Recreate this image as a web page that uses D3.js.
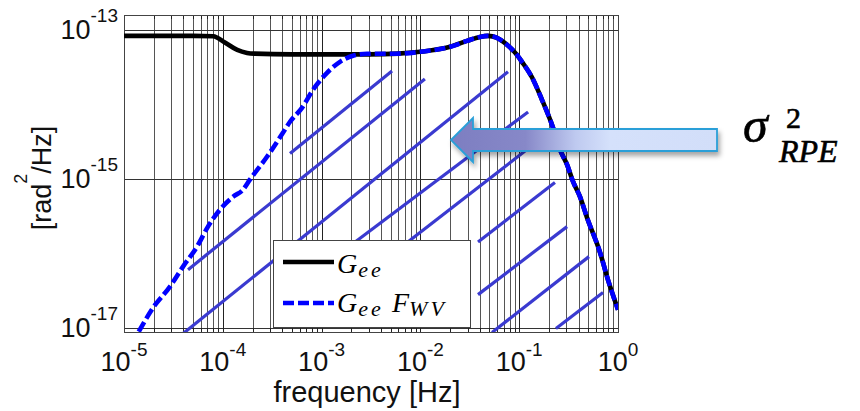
<!DOCTYPE html>
<html>
<head>
<meta charset="utf-8">
<script src="https://cdn.jsdelivr.net/npm/d3@7/dist/d3.min.js"></script>
<style>
  body { margin: 0; background: #fff; }
</style>
</head>
<body>
<div id="chart"></div>
<script>
// tick exponents (labels are 10^e)
const xTickExp = [-5, -4, -3, -2, -1, 0];
const yTickExp = [-13, -15, -17];

// G_ee  (frequency in Hz, PSD in rad^2/Hz)
const geeFreq = [1e-5, 5e-5, 8e-5, 1.05e-4, 1.4e-4, 1.76e-4, 2.1e-4, 5e-4, 1e-3, 3e-3, 6e-3,
                 9.9e-3, 0.02, 0.0296, 0.04, 0.0483, 0.0596, 0.0753, 0.095, 0.1067, 0.135,
                 0.17, 0.22, 0.259, 0.305, 0.351, 0.412, 0.485, 0.658, 0.792, 1.0];
const geeVal = [8.32e-14, 8.32e-14, 8.22e-14, 6.76e-14, 5.37e-14, 4.90e-14, 4.79e-14, 4.68e-14,
                4.68e-14, 4.68e-14, 4.79e-14, 5.07e-14, 5.92e-14, 7.11e-14, 8.05e-14, 8.32e-14,
                7.82e-14, 6.31e-14, 4.62e-14, 3.72e-14, 2.29e-14, 1.15e-14, 4.84e-15, 2.45e-15,
                1.55e-15, 9.12e-16, 5.75e-16, 3.02e-16, 1.02e-16, 4.37e-17, 1.74e-17];

// G_ee F_WV
const gfwFreq = [1.18e-5, 1.355e-5, 1.97e-5, 2.92e-5, 3.96e-5, 5.48e-5, 7.08e-5, 9.37e-5,
                 1.27e-4, 1.60e-4, 1.88e-4, 2.80e-4, 4.06e-4, 4.79e-4, 6.33e-4, 8.19e-4,
                 1.135e-3, 1.535e-3, 2.08e-3, 2.88e-3, 6e-3,
                 9.9e-3, 0.02, 0.0296, 0.04, 0.0483, 0.0596, 0.0753, 0.095, 0.1067, 0.135,
                 0.17, 0.22, 0.259, 0.305, 0.351, 0.412, 0.485, 0.658, 0.792, 1.0];
const gfwVal = [5.9e-18, 8.05e-18, 1.85e-17, 3.55e-17, 6.59e-17, 1.22e-16, 2.27e-16, 3.84e-16,
                5.73e-16, 7.11e-16, 9.7e-16, 1.97e-15, 4.14e-15, 5.82e-15, 8.97e-15, 1.57e-14,
                2.65e-14, 3.72e-14, 4.48e-14, 4.77e-14, 4.79e-14,
                5.07e-14, 5.92e-14, 7.11e-14, 8.05e-14, 8.32e-14, 7.82e-14, 6.31e-14, 4.62e-14,
                3.72e-14, 2.29e-14, 1.15e-14, 4.84e-15, 2.45e-15, 1.55e-15, 9.12e-16, 5.75e-16,
                3.02e-16, 1.02e-16, 4.37e-17, 1.74e-17];

// hatch strokes marking the sigma^2_RPE area, [freq, psd] start and end
const hatchFrom = [[3.96e-5, 8.3e-18], [4.45e-5, 6.0e-17], [4.79e-4, 2.18e-15], [1.73e-3, 1.12e-16],
                   [6.22e-3, 1.17e-16], [0.0383, 1.41e-16], [0.0383, 2.77e-17], [0.0531, 8.6e-18],
                   [0.2355, 9.7e-18]];
const hatchTo = [[0.077, 2.73e-14], [0.0111, 2.19e-14], [5.16e-3, 2.8e-14], [0.123, 7.9e-15],
                 [0.182, 3.8e-15], [0.230, 8.9e-16], [0.305, 2.27e-16], [0.508, 8.97e-17],
                 [0.705, 2.95e-17]];

const width = 860, height = 411;
const pLeft = 124, pRight = 618, pTop = 15, pBottom = 332;

const svg = d3.select("#chart").append("svg")
    .attr("width", width)
    .attr("height", height);

const x = d3.scaleLog().domain([1e-5, 1]).range([pLeft, pRight]);
const y = d3.scaleLog().domain([Math.pow(10, -17.06), Math.pow(10, -12.8)]).range([pBottom, pTop]);

const defs = svg.append("defs");
defs.append("clipPath").attr("id", "plotclip")
    .append("rect")
    .attr("x", pLeft).attr("y", pTop)
    .attr("width", pRight - pLeft).attr("height", pBottom - pTop);

// grid
const grid = svg.append("g").attr("shape-rendering", "crispEdges");
const minor = x.ticks();
grid.selectAll(".vg").data(minor).enter().append("line")
    .attr("x1", d => Math.round(x(d)) + 0.5).attr("x2", d => Math.round(x(d)) + 0.5)
    .attr("y1", pTop).attr("y2", pBottom)
    .style("stroke", d => Number.isInteger(Math.log10(d)) ? "#222" : "#555")
    .style("stroke-width", 1);
grid.selectAll(".hg").data(yTickExp).enter().append("line")
    .attr("x1", pLeft).attr("x2", pRight)
    .attr("y1", d => Math.round(y(Math.pow(10, d))) + 0.5)
    .attr("y2", d => Math.round(y(Math.pow(10, d))) + 0.5)
    .style("stroke", "#333");

// small inward ticks
grid.selectAll(".tb").data(minor).enter().append("line")
    .attr("x1", d => Math.round(x(d)) + 0.5).attr("x2", d => Math.round(x(d)) + 0.5)
    .attr("y1", pBottom).attr("y2", pBottom - 4)
    .style("stroke", "#222");
grid.selectAll(".tt").data(minor).enter().append("line")
    .attr("x1", d => Math.round(x(d)) + 0.5).attr("x2", d => Math.round(x(d)) + 0.5)
    .attr("y1", pTop).attr("y2", pTop + 4)
    .style("stroke", "#222");

grid.append("rect")
    .attr("x", pLeft + 0.5).attr("y", pTop + 0.5)
    .attr("width", pRight - pLeft).attr("height", pBottom - pTop)
    .style("fill", "none").style("stroke", "#444");

// hatch
const plot = svg.append("g").attr("clip-path", "url(#plotclip)");
plot.selectAll(".hatch").data(hatchFrom).enter().append("line")
    .attr("x1", d => x(d[0])).attr("y1", d => y(d[1]))
    .attr("x2", (d, i) => x(hatchTo[i][0])).attr("y2", (d, i) => y(hatchTo[i][1]))
    .style("stroke", "#3a3ad0")
    .style("stroke-width", 3.2);

// curves
const line = d3.line()
    .x(d => x(d[0]))
    .y(d => y(d[1]))
    .curve(d3.curveMonotoneX);

plot.append("path")
    .attr("d", line(d3.zip(geeFreq, geeVal)))
    .style("fill", "none").style("stroke", "#000").style("stroke-width", 4.6);

plot.append("path")
    .attr("d", line(d3.zip(gfwFreq, gfwVal)))
    .style("fill", "none").style("stroke", "#0000ff").style("stroke-width", 4.6)
    .style("stroke-dasharray", "11,4");

// tick labels
const font = "'Liberation Sans', Arial, sans-serif";
const xl = svg.selectAll(".xl").data(xTickExp).enter().append("text")
    .attr("x", d => x(Math.pow(10, d)))
    .attr("y", 371)
    .attr("text-anchor", "middle")
    .style("font-family", font).style("fill", "#111");
xl.append("tspan").style("font-size", "27px").text("10");
xl.append("tspan").style("font-size", "19px").attr("dy", -15).text(d => d);

const yl = svg.selectAll(".yl").data(yTickExp).enter().append("text")
    .attr("x", 118)
    .attr("y", d => y(Math.pow(10, d)) + 9)
    .attr("text-anchor", "end")
    .style("font-family", font).style("fill", "#111");
yl.append("tspan").style("font-size", "27px").text("10");
yl.append("tspan").style("font-size", "19px").attr("dy", -17).text(d => d);

// axis titles
svg.append("text")
    .attr("x", 367).attr("y", 402)
    .attr("text-anchor", "middle")
    .style("font-family", font).style("font-size", "29px").style("fill", "#111")
    .text("frequency [Hz]");

const yt = svg.append("text")
    .attr("transform", "translate(51,178) rotate(-90)")
    .attr("text-anchor", "middle")
    .style("font-family", font).style("font-size", "27px").style("fill", "#111");
yt.append("tspan").text("[rad");
yt.append("tspan").attr("dy", -24).style("font-size", "18px").text("2");
yt.append("tspan").attr("dy", 24).text("/Hz]");

// legend
const lg = svg.append("g");
lg.append("rect")
    .attr("x", 273.5).attr("y", 240.5).attr("width", 197).attr("height", 87)
    .style("fill", "#fff").style("stroke", "#444");
lg.append("line").attr("x1", 283).attr("x2", 334).attr("y1", 262).attr("y2", 262)
    .style("stroke", "#000").style("stroke-width", 4.6);
lg.append("line").attr("x1", 283).attr("x2", 334).attr("y1", 303).attr("y2", 303)
    .style("stroke", "#0000ff").style("stroke-width", 4.6).style("stroke-dasharray", "11,4");

const serif = "'Liberation Serif', 'Times New Roman', serif";
const l1 = lg.append("text").attr("x", 337).attr("y", 273)
    .style("font-family", serif).style("font-style", "italic").style("font-size", "28px");
l1.append("tspan").text("G");
l1.append("tspan").attr("dx", 1).attr("dy", 4).style("font-size", "22px")
    .style("letter-spacing", "3px").text("ee");

const l2 = lg.append("text").attr("x", 337).attr("y", 312)
    .style("font-family", serif).style("font-style", "italic").style("font-size", "28px");
l2.append("tspan").text("G");
l2.append("tspan").attr("dx", 1).attr("dy", 4).style("font-size", "22px")
    .style("letter-spacing", "3px").text("ee");
l2.append("tspan").attr("x", 392).attr("dy", -4).text("F");
l2.append("tspan").attr("dy", 4).style("font-size", "22px")
    .style("letter-spacing", "3px").text("WV");

// arrow annotation
const grad = defs.append("linearGradient").attr("id", "arrowfill")
    .attr("gradientUnits", "userSpaceOnUse")
    .attr("x1", 451).attr("x2", 717).attr("y1", 0).attr("y2", 0);
[[0, "#7d7ec1"], [0.28, "#8788c8"], [0.47, "#bfcaf0"], [0.6, "#d5e1fb"], [1, "#d2def9"]]
    .forEach(s => grad.append("stop").attr("offset", s[0]).attr("stop-color", s[1]));

const shadow = defs.append("filter").attr("id", "shadow")
    .attr("x", "-10%").attr("y", "-30%").attr("width", "130%").attr("height", "180%");
shadow.append("feDropShadow")
    .attr("dx", 2).attr("dy", 4).attr("stdDeviation", 2.5)
    .attr("flood-color", "#000").attr("flood-opacity", 0.35);

const arrowPts = [[451, 140], [473, 118], [473, 129], [717, 129], [717, 151], [473, 151], [473, 162]];
svg.append("path")
    .attr("d", d3.line()(arrowPts) + "Z")
    .style("fill", "url(#arrowfill)")
    .style("stroke", "#2a9fd8").style("stroke-width", 1.8)
    .attr("filter", "url(#shadow)");

// sigma^2_RPE label
const sg = svg.append("g")
    .style("font-family", serif).style("font-style", "italic").style("fill", "#000")
    .style("stroke", "#000").style("stroke-width", 0.6);
sg.append("text").attr("x", 743).attr("y", 142).style("font-size", "50px").text("σ");
sg.append("text").attr("x", 786).attr("y", 128).style("font-size", "30px").style("font-style", "normal").text("2");
sg.append("text").attr("x", 779).attr("y", 162).style("font-size", "32px").text("RPE");
</script>
</body>
</html>
